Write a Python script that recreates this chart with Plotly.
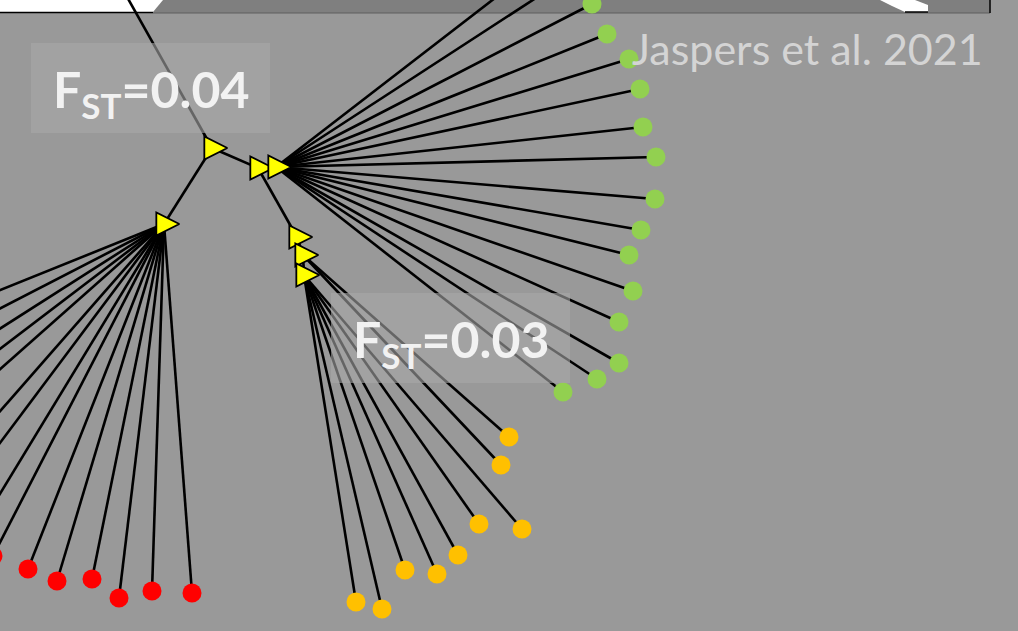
import plotly.graph_objects as go

# Internal nodes of the tree (pixel-space layout, y grows downward)
node_names = ["root", "A", "R", "G1", "G2", "O1", "O2", "O3"]
node_x = [122, 212, 164, 258, 276, 297, 303, 304]
node_y = [-12, 148, 224, 168, 167, 237, 255, 275]

# Internal branches (parent, child)
branch_from = ["root", "A", "A", "G1", "G1", "O1", "O2"]
branch_to = ["A", "R", "G1", "G2", "O1", "O2", "O3"]

# Leaf individuals per population and the node they hang from
red_parent = "R"
red_x = [-183, -168, -151, -133, -116, -82, -60, -30, -7, 28, 57, 92, 119, 152, 192]
red_y = [364, 395, 425, 450, 472, 505, 523, 543, 556, 569, 581, 579, 598, 591, 593]

green_parent = "G2"
green_x = [565, 582, 592, 607, 629, 640, 643, 656, 655, 641, 629, 633, 619, 619, 597, 563]
green_y = [-56, -32, 4, 34, 59, 89, 127, 157, 199, 230, 255, 291, 322, 363, 379, 392]

orange_parent = ["O2", "O2", "O3", "O3", "O3", "O3", "O3", "O3", "O3"]
orange_x = [509, 501, 522, 479, 458, 437, 405, 382, 356]
orange_y = [437, 465, 529, 524, 555, 574, 570, 609, 602]

# Differentiation labels
fst_labels = ["F<sub>ST</sub>=0.04", "F<sub>ST</sub>=0.03"]
fst_box_x = [(31, 270), (331, 570)]
fst_box_y = [(43, 133), (293, 383)]
credit = "Jaspers et al. 2021"

pos = {n: (x, y) for n, x, y in zip(node_names, node_x, node_y)}

edge_x, edge_y = [], []
for a, b in zip(branch_from, branch_to):
    edge_x += [pos[a][0], pos[b][0], None]
    edge_y += [pos[a][1], pos[b][1], None]
for x, y in zip(red_x, red_y):
    edge_x += [pos[red_parent][0], x, None]
    edge_y += [pos[red_parent][1], y, None]
for x, y in zip(green_x, green_y):
    edge_x += [pos[green_parent][0], x, None]
    edge_y += [pos[green_parent][1], y, None]
for p, x, y in zip(orange_parent, orange_x, orange_y):
    edge_x += [pos[p][0], x, None]
    edge_y += [pos[p][1], y, None]

fig = go.Figure()
fig.add_trace(go.Scatter(x=edge_x, y=edge_y, mode="lines",
                         line=dict(color="black", width=2.6),
                         hoverinfo="skip", showlegend=False))

for xs, ys, col in [(red_x, red_y, "#ff0000"),
                    (green_x, green_y, "#92d050"),
                    (orange_x, orange_y, "#ffc000")]:
    fig.add_trace(go.Scatter(x=xs, y=ys, mode="markers",
                             marker=dict(symbol="circle", size=19, color=col,
                                         line=dict(width=0)),
                             showlegend=False))

# Internal nodes as right-pointing yellow triangles (root lies off-canvas)
arrow_size = 23
tri_x = [x + arrow_size * 2 / 3 for x in node_x[1:]]
fig.add_trace(go.Scatter(x=tri_x, y=node_y[1:], mode="markers",
                         marker=dict(symbol="arrow-right", size=arrow_size,
                                     color="#ffff00",
                                     line=dict(color="black", width=1.8)),
                         showlegend=False))

shapes = [
    # strip along the top edge
    dict(type="rect", x0=0, x1=990, y0=0, y1=13, fillcolor="#7f7f7f",
         line=dict(width=0), layer="below"),
    dict(type="path", path="M0,0 L163,0 L153,12 L0,12 Z", fillcolor="white",
         line=dict(width=0), layer="below"),
    dict(type="path", path="M880,0 L915,0 L928,5 L928,12 L905,12 L892,6 Z",
         fillcolor="white", line=dict(width=0), layer="below"),
    dict(type="line", x0=0, x1=153, y0=12.5, y1=12.5,
         line=dict(color="black", width=1.5), layer="below"),
    dict(type="line", x0=153, x1=990, y0=13, y1=13,
         line=dict(color="#5e5e5e", width=1.2), layer="below"),
    dict(type="line", x0=905, x1=928, y0=12, y1=12,
         line=dict(color="black", width=1.5), layer="below"),
    dict(type="line", x0=990, x1=990, y0=0, y1=13,
         line=dict(color="black", width=1.5), layer="below"),
]
for (x0, x1), (y0, y1) in zip(fst_box_x, fst_box_y):
    shapes.append(dict(type="rect", x0=x0, x1=x1, y0=y0, y1=y1,
                       fillcolor="#a8a8a8", opacity=0.6,
                       line=dict(width=0), layer="above"))

annotations = []
for text, (x0, x1), (y0, y1) in zip(fst_labels, fst_box_x, fst_box_y):
    annotations.append(dict(x=(x0 + x1) / 2, y=(y0 + y1) / 2 + 4, text=text,
                            showarrow=False, xanchor="center", yanchor="middle",
                            font=dict(family="Lato", size=50, color="#f2f2f2",
                                      weight="bold")))
annotations.append(dict(x=985, y=48, text=credit, showarrow=False,
                        xanchor="right", yanchor="middle",
                        font=dict(family="Lato", size=43, color="#d4d4d4")))

fig.update_layout(
    width=1018, height=631,
    margin=dict(l=0, r=0, t=0, b=0),
    paper_bgcolor="#999999", plot_bgcolor="#999999",
    xaxis=dict(range=[0, 1018], visible=False, fixedrange=True),
    yaxis=dict(range=[631, 0], visible=False, fixedrange=True),
    shapes=shapes, annotations=annotations,
)

fig.write_html("out.html")
